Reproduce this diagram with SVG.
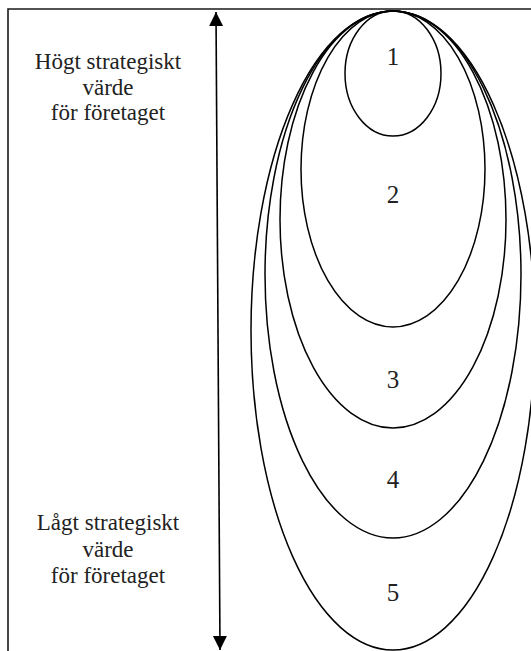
<svg xmlns="http://www.w3.org/2000/svg" width="531" height="651" viewBox="0 0 531 651">
<defs>
<style>
.e{fill:none;stroke:#000;stroke-width:1.5}
.b{fill:none;stroke:#1a1a1a;stroke-width:1.6}
.t{font-family:"Liberation Serif","Times New Roman",serif;font-size:23px;fill:#222;text-anchor:middle}
.n{font-family:"Liberation Serif","Times New Roman",serif;font-size:25px;fill:#222;text-anchor:middle}
</style>
<marker id="ah" viewBox="0 0 10 10" refX="10" refY="5" markerWidth="14" markerHeight="15" markerUnits="userSpaceOnUse" orient="auto-start-reverse">
<path d="M0,0 L10,5 L0,10 Z" fill="#000"/>
</marker>
</defs>
<rect width="531" height="651" fill="#fff"/>
<g id="frame">
<path class="b" d="M8,651 L8,9 L531,9"/>
</g>
<g id="connectors">
<line x1="216" y1="12" x2="220" y2="650" stroke="#000" stroke-width="1.6" marker-start="url(#ah)" marker-end="url(#ah)"/>
</g>
<g id="label-high">
<text class="t" x="108" y="69">Högt strategiskt</text>
<text class="t" x="108" y="95">värde</text>
<text class="t" x="108" y="120">för företaget</text>
</g>
<g id="label-low">
<text class="t" x="108" y="530">Lågt strategiskt</text>
<text class="t" x="108" y="557">värde</text>
<text class="t" x="108" y="583">för företaget</text>
</g>
<g id="ellipse-5">
<ellipse class="e" cx="393" cy="330.5" rx="142" ry="319.5"/>
<text class="n" x="393" y="601">5</text>
</g>
<g id="ellipse-4">
<ellipse class="e" cx="393" cy="274.5" rx="128" ry="263.5"/>
<text class="n" x="393" y="488">4</text>
</g>
<g id="ellipse-3">
<ellipse class="e" cx="393" cy="219.5" rx="113" ry="208.5"/>
<text class="n" x="393" y="388">3</text>
</g>
<g id="ellipse-2">
<ellipse class="e" cx="393" cy="169" rx="92" ry="158"/>
<text class="n" x="393" y="203">2</text>
</g>
<g id="ellipse-1">
<ellipse class="e" cx="393" cy="73.5" rx="48" ry="62.5"/>
<text class="n" x="393" y="65">1</text>
</g>
</svg>
